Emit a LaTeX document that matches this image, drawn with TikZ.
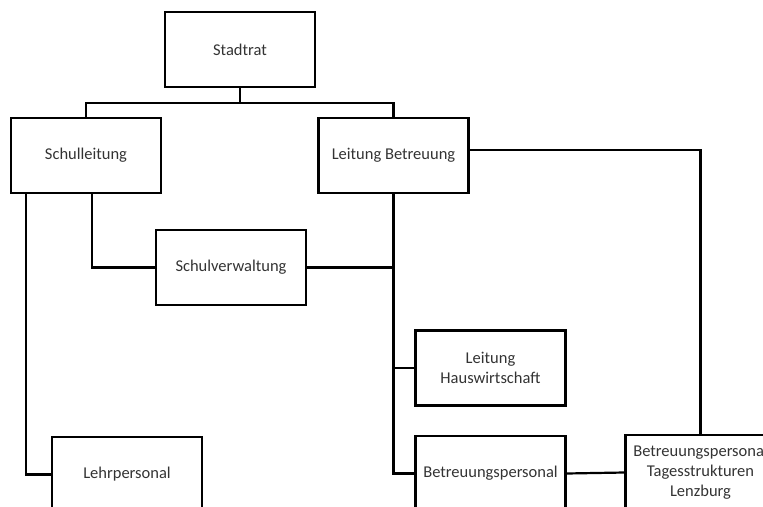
\documentclass[tikz,border=0pt]{standalone}
\usepackage{fontspec}
\setmainfont{Carlito}
\begin{document}
\begin{tikzpicture}[x=1pt,y=-1pt,
  orgbox/.style={draw=black,line width=2.2pt,minimum width=150pt,minimum height=75pt,
    inner sep=0pt,align=center,text=black!80,font=\fontsize{16.5}{20}\selectfont},
  link/.style={draw=black,line width=2.2pt,line join=miter}]
\useasboundingbox (0,0) rectangle (763,506);
\clip (0,0) rectangle (763,506);
\node[orgbox] (stadtrat) at (240,49.5) {Stadtrat};
\node[orgbox] (schulleitung) at (86,155.5) {Schulleitung};
\node[orgbox] (leitbetr) at (393.5,155.5) {Leitung Betreuung};
\node[orgbox] (schulverw) at (231,267.5) {Schulverwaltung};
\node[orgbox] (hausw) at (490.5,368) {Leitung\\Hauswirtschaft};
\node[orgbox] (lehr) at (127,474.5) {Lehrpersonal};
\node[orgbox] (betr) at (490.5,473.5) {Betreuungspersonal};
\node[orgbox] (tages) at (700.5,472.5) {Betreuungspersonal\\Tagesstrukturen\\Lenzburg};
\coordinate (j) at (240,103);
\draw[link] (stadtrat) -- (j);
\draw[link] (schulleitung.north) |- (j) -| (leitbetr.north);
\draw[link] ([xshift=6pt]schulleitung.south) |- (schulverw.west);
\draw[link] ([xshift=-60pt]schulleitung.south) |- (lehr.west);
\draw[link] (leitbetr.south) |- (schulverw.east);
\draw[link] (leitbetr.south) |- (hausw.west);
\draw[link] (leitbetr.south) |- (betr.west);
\draw[link] (betr.east) -- (tages.west);
\draw[link] ([yshift=5.5pt]leitbetr.east) -| (tages.north);
\end{tikzpicture}
\end{document}
